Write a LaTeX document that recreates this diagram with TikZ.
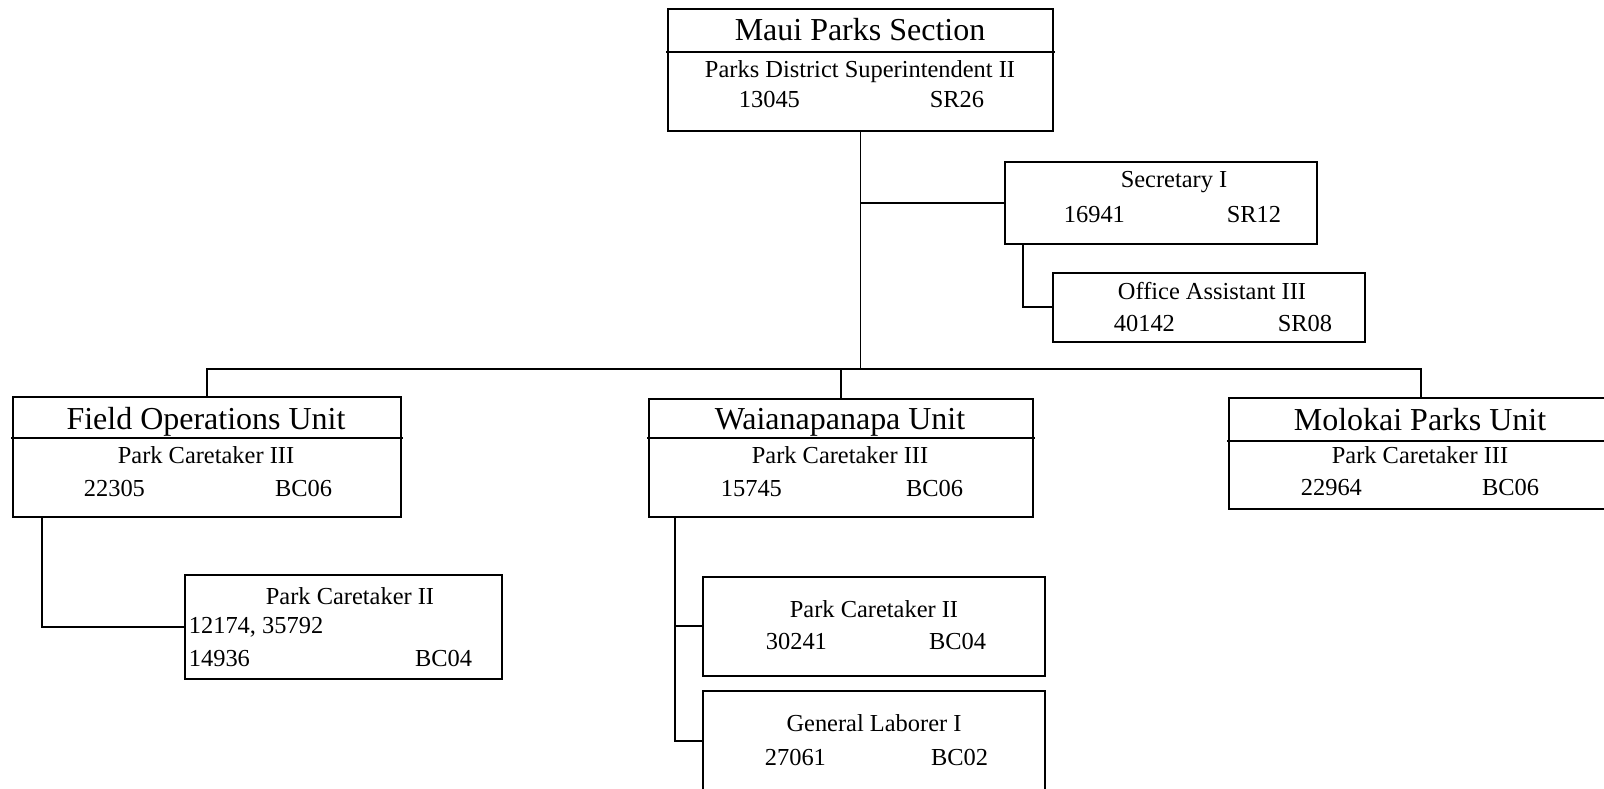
\documentclass[tikz,border=0pt]{standalone}
\usepackage{fontspec}
\setmainfont{Liberation Serif}
\usepackage{tikz}

\newcommand{\unitfont}{\fontsize{9.1pt}{11pt}\selectfont}
\newcommand{\jobfont}{\fontsize{6.95pt}{8.5pt}\selectfont}

\begin{document}
\begin{tikzpicture}[line width=0.5pt,line cap=rect,
  box/.style={draw,rectangle,anchor=north west,inner sep=0pt},
  head/.style={font=\unitfont,inner sep=0pt,anchor=base},
  job/.style={font=\jobfont,inner sep=0pt,anchor=base},
  num/.style={job,anchor=base west},
  grade/.style={job,anchor=base east}]
\useasboundingbox (0,0) rectangle (16.04,-7.89);
% boxes
\node[box,minimum width=3.85cm,minimum height=1.22cm] (maui) at (6.67,-0.08) {};
\node[box,minimum width=3.12cm,minimum height=0.82cm] (sec) at (10.04,-1.61) {};
\node[box,minimum width=3.12cm,minimum height=0.69cm] (office) at (10.52,-2.72) {};
\node[box,minimum width=3.88cm,minimum height=1.20cm] (field) at (0.12,-3.96) {};
\node[box,minimum width=3.84cm,minimum height=1.18cm] (waian) at (6.48,-3.98) {};
\node[box,minimum width=3.84cm,minimum height=1.11cm] (molokai) at (12.28,-3.97) {};
\node[box,minimum width=3.17cm,minimum height=1.04cm] (fpc) at (1.84,-5.74) {};
\node[box,minimum width=3.42cm,minimum height=0.99cm] (wpc) at (7.02,-5.76) {};
\node[box,minimum width=3.42cm,minimum height=1.00cm] (gl) at (7.02,-6.90) {};
% title rules
\draw ([yshift=-0.44cm]maui.north west) -- ([yshift=-0.44cm]maui.north east);
\draw ([yshift=-0.42cm]field.north west) -- ([yshift=-0.42cm]field.north east);
\draw ([yshift=-0.40cm]waian.north west) -- ([yshift=-0.40cm]waian.north east);
\draw ([yshift=-0.44cm]molokai.north west) -- ([yshift=-0.44cm]molokai.north east);
% connectors
\coordinate (bus) at (0,-3.69);
\draw (maui.south) -- (maui.south |- bus);
\draw (field.north) -- (field.north |- bus) -- (molokai.north |- bus) -- (molokai.north);
\draw (waian.north) -- (waian.north |- bus);
\draw (sec.west) -- (sec.west -| maui.south);
\draw (office.west) -| ([xshift=0.19cm]sec.south west);
\draw (fpc.west) -| ([xshift=0.30cm]field.south west);
\draw (gl.west) -| ([xshift=0.27cm]waian.south west);
\draw (wpc.west) -- ++(-0.27,0);
% Maui Parks Section
\node[head] (mauiT) at (8.60,-0.405) {Maui Parks Section};
\node[job] (mauiJ) at (8.60,-0.78) {Parks District Superintendent II};
\node[num] (mauiN) at (7.38,-1.08) {13045};
\node[grade] (mauiG) at (9.85,-1.08) {SR26};
% Secretary I
\node[job] (secJ) at (11.74,-1.88) {Secretary I};
\node[num] (secN) at (10.63,-2.23) {16941};
\node[grade] (secG) at (12.82,-2.23) {SR12};
% Office Assistant III
\node[job] (officeJ) at (12.12,-3.00) {Office Assistant III};
\node[num] (officeN) at (11.13,-3.32) {40142};
\node[grade] (officeG) at (13.33,-3.32) {SR08};
% Field Operations Unit
\node[head] (fieldT) at (2.06,-4.30) {Field Operations Unit};
\node[job] (fieldJ) at (2.06,-4.64) {Park Caretaker III};
\node[num] (fieldN) at (0.83,-4.97) {22305};
\node[grade] (fieldG) at (3.33,-4.97) {BC06};
% Waianapanapa Unit
\node[head] (waianT) at (8.40,-4.30) {Waianapanapa Unit};
\node[job] (waianJ) at (8.40,-4.64) {Park Caretaker III};
\node[num] (waianN) at (7.20,-4.97) {15745};
\node[grade] (waianG) at (9.64,-4.97) {BC06};
% Molokai Parks Unit
\node[head] (molokaiT) at (14.20,-4.31) {Molokai Parks Unit};
\node[job] (molokaiJ) at (14.20,-4.64) {Park Caretaker III};
\node[num] (molokaiN) at (13.00,-4.96) {22964};
\node[grade] (molokaiG) at (15.40,-4.96) {BC06};
% Park Caretaker II (field)
\node[job] (fpcJ) at (3.50,-6.05) {Park Caretaker II};
\node[num] (fpcN) at (1.88,-6.34) {12174, 35792};
\node[num] (fpcM) at (1.88,-6.67) {14936};
\node[grade] (fpcG) at (4.73,-6.67) {BC04};
% Park Caretaker II (Waianapanapa)
\node[job] (wpcJ) at (8.74,-6.18) {Park Caretaker II};
\node[num] (wpcN) at (7.65,-6.50) {30241};
\node[grade] (wpcG) at (9.87,-6.50) {BC04};
% General Laborer I
\node[job] (glJ) at (8.74,-7.32) {General Laborer I};
\node[num] (glN) at (7.64,-7.66) {27061};
\node[grade] (glG) at (9.89,-7.66) {BC02};
\end{tikzpicture}
\end{document}
